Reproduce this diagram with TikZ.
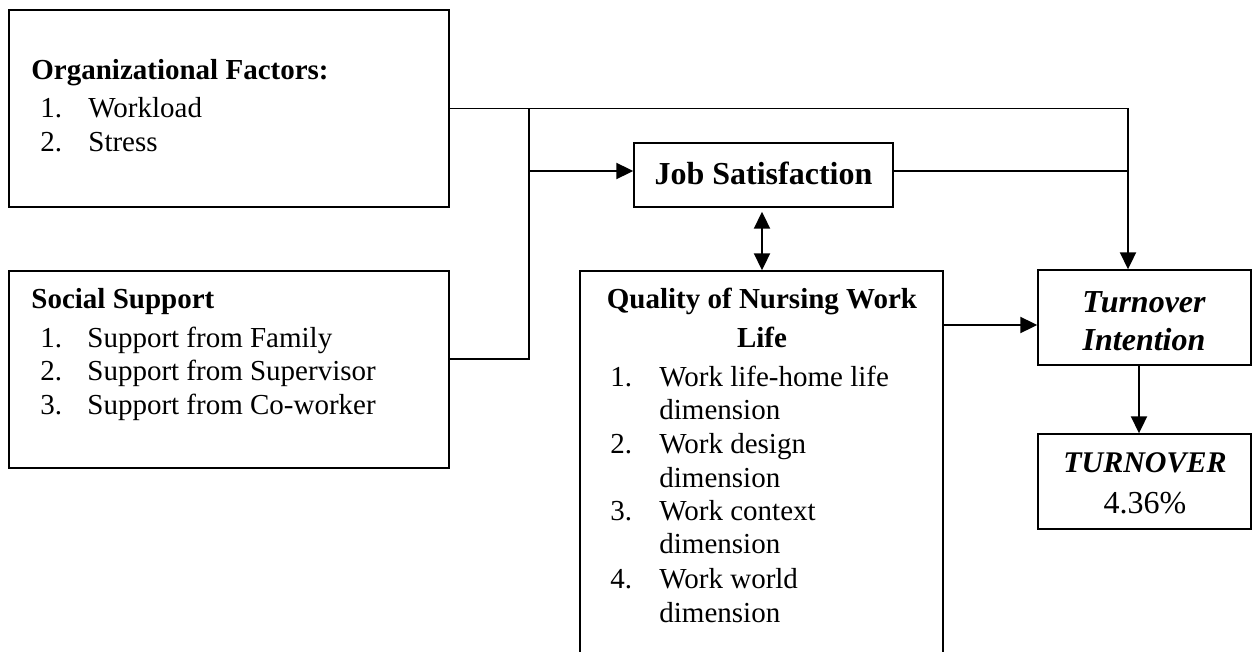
\documentclass[tikz,border=0pt]{standalone}
\usepackage{fontspec}
\setmainfont{Liberation Serif}
\usetikzlibrary{arrows.meta,fit,calc}
\begin{document}
\begin{tikzpicture}[x=0.5pt,y=-0.5pt,
  boxnode/.style={draw,line width=0.7pt,inner sep=0pt,rectangle},
  txt/.style={inner sep=0pt,anchor=base west,font=\fontsize{14.5}{17}\selectfont},
  ctxt/.style={inner sep=0pt,anchor=base,font=\fontsize{14.5}{17}\selectfont},
  conn/.style={line width=0.6pt},
  arr/.style={line width=1pt,-{Triangle[length=8.5pt,width=8pt]}},
  arrtwo/.style={line width=1pt,{Triangle[length=8.5pt,width=8pt]}-{Triangle[length=8.5pt,width=8pt]}}]
\clip (0,0) rectangle (1252,652);
% boxes
\node[boxnode,fit={(9,10) (449,207)}] (org) {};
\node[boxnode,fit={(9,271) (449,468)}] (ss) {};
\node[boxnode,fit={(634,143) (893,207)}] (js) {};
\node[boxnode,fit={(580,271) (943,680)}] (qn) {};
\node[boxnode,fit={(1038,270) (1251,365)}] (ti) {};
\node[boxnode,fit={(1038,434) (1251,529)}] (tv) {};
% organizational factors
\node[txt,font=\fontsize{14.5}{17}\selectfont\bfseries] (orgh) at (31,80) {Organizational Factors:};
\node[txt] (orgn1) at (40,118) {1.};
\node[txt] (orgi1) at (88,118) {Workload};
\node[txt] (orgn2) at (40,152) {2.};
\node[txt] (orgi2) at (88,152) {Stress};
% social support
\node[txt,font=\fontsize{14.5}{17}\selectfont\bfseries] (ssh) at (31,308) {Social Support};
\node[txt] (ssn1) at (40,347) {1.};
\node[txt] (ssi1) at (87,347) {Support from Family};
\node[txt] (ssn2) at (40,380) {2.};
\node[txt] (ssi2) at (87,380) {Support from Supervisor};
\node[txt] (ssn3) at (40,414) {3.};
\node[txt] (ssi3) at (87,414) {Support from Co-worker};
% job satisfaction
\node[ctxt,font=\fontsize{16}{19}\selectfont\bfseries] (jst) at (763.5,185) {Job Satisfaction};
% quality of nursing work life
\node[ctxt,font=\fontsize{14.5}{17}\selectfont\bfseries] (qnh1) at (762,308) {Quality of Nursing Work};
\node[ctxt,font=\fontsize{14.5}{17}\selectfont\bfseries] (qnh2) at (762,347) {Life};
\node[txt] (qnn1) at (610,386) {1.};
\node[txt] (qni1) at (659,386) {Work life-home life};
\node[txt] (qni1b) at (659,419) {dimension};
\node[txt] (qnn2) at (610,453) {2.};
\node[txt] (qni2) at (659,453) {Work design};
\node[txt] (qni2b) at (659,487) {dimension};
\node[txt] (qnn3) at (610,520) {3.};
\node[txt] (qni3) at (659,520) {Work context};
\node[txt] (qni3b) at (659,553) {dimension};
\node[txt] (qnn4) at (610,588) {4.};
\node[txt] (qni4) at (659,588) {Work world};
\node[txt] (qni4b) at (659,622) {dimension};
% turnover intention
\node[ctxt,font=\fontsize{16}{19}\selectfont\bfseries\itshape] (tit1) at (1144,312) {Turnover};
\node[ctxt,font=\fontsize{16}{19}\selectfont\bfseries\itshape] (tit2) at (1144,350) {Intention};
% turnover
\node[ctxt,font=\fontsize{15}{18}\selectfont\bfseries\itshape] (tvt1) at (1145,472) {TURNOVER};
\node[ctxt,font=\fontsize{16}{19}\selectfont] (tvt2) at (1145,513) {4.36\%};
% junction coordinates
\coordinate (jct) at (529,108.5);
\coordinate (rt) at (1128,108.5);
\coordinate (ssout) at (449,359);
\coordinate (jsin) at (529,171);
\coordinate (jsout) at (893,171);
\coordinate (qnout) at (943,325);
% connectors
\draw[conn] (org.east) -- (rt);
\draw[arr] (rt) -- (rt |- ti.north);
\draw[conn] (jct) -- (jct |- ssout) -- (ssout);
\draw[arr] (jsin) -- (jsin -| js.west);
\draw[conn] (jsout) -- (jsout -| rt);
\draw[arrtwo] ([xshift=-0.75pt,yshift=-2pt]js.south) -- ([xshift=0.25pt]qn.north);
\draw[arr] (qnout) -- (qnout -| ti.west);
\draw[arr] ([xshift=-2.75pt]ti.south) -- ([xshift=-2.75pt]tv.north);
\end{tikzpicture}
\end{document}
